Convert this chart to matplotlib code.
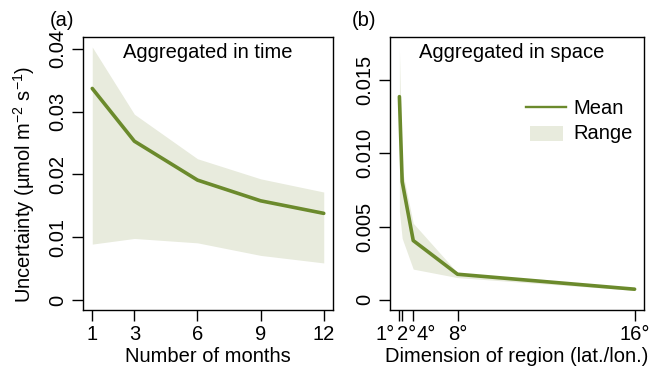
import matplotlib
matplotlib.use("Agg")
import matplotlib.pyplot as plt
from matplotlib.transforms import ScaledTranslation
from matplotlib.lines import Line2D
from matplotlib.patches import Rectangle
from matplotlib.legend_handler import HandlerPatch
import numpy as np

plt.rcParams['font.family'] = ['Liberation Sans', 'DejaVu Sans']
plt.rcParams['mathtext.fontset'] = 'custom'
plt.rcParams['mathtext.rm'] = 'Liberation Sans'
plt.rcParams['mathtext.it'] = 'Liberation Sans:italic'
plt.rcParams['mathtext.bf'] = 'Liberation Sans:bold'

# Panel (a): aggregated in time
months = [1, 3, 6, 9, 12]
time_mean = [0.0337, 0.0253, 0.0191, 0.0158, 0.0138]
time_upper = [0.0403, 0.0296, 0.0225, 0.0193, 0.0172]
time_lower = [0.0089, 0.0098, 0.0091, 0.0071, 0.0059]

# Panel (b): aggregated in space (x positioned by area = dim^2)
dims = [1, 2, 4, 8, 16]
dim_labels = ['1°', '2°', '4°', '8°', '16°']
space_mean = [0.01387, 0.00807, 0.00405, 0.00175, 0.00073]
space_upper = [0.01717, 0.00890, 0.00523, 0.00185, 0.00080]
space_lower = [0.00605, 0.00420, 0.00210, 0.00152, 0.00065]

line_c = '#6b8a2c'
fill_c = '#e8ebdd'
fs = 14.5

W, H = 651, 373
fig = plt.figure(figsize=(W/100, H/100), dpi=100)

def ax_rect(l, r, t, b):
    return [l/W, 1 - b/H, (r-l)/W, (b-t)/H]

def style(ax):
    for s in ax.spines.values():
        s.set_linewidth(1.0)
    ax.tick_params(direction='out', length=8, width=1.0, labelsize=fs, pad=3)
    ax.tick_params(axis='y', labelrotation=90)
    for lab in ax.get_yticklabels():
        lab.set_va('center')

# Left panel
ax1 = fig.add_axes(ax_rect(83, 333, 37, 310))
x1 = np.array(months)
ax1.fill_between(x1, time_lower, time_upper, color=fill_c, lw=0)
ax1.plot(x1, time_mean, color=line_c, lw=2.6, solid_capstyle='round',
         solid_joinstyle='round')
ax1.set_xlim(1 - 0.44, 12 + 0.44)
ax1.set_ylim(-0.0016, 0.0419)
ax1.set_xticks(months)
ax1.set_xticklabels([str(m) for m in months])
ax1.set_yticks([0, 0.01, 0.02, 0.03, 0.04])
ax1.set_yticklabels(['0', '0.01', '0.02', '0.03', '0.04'])
style(ax1)
ax1.set_xlabel('Number of months', fontsize=fs, labelpad=2)
ax1.set_ylabel(r'Uncertainty (µmol m$^{\mathregular{-2}}$ s$^{\mathregular{-1}}$)',
               fontsize=fs, labelpad=5)
ax1.yaxis.set_label_coords(-0.185, 0.46)
ax1.text(0.5, 0.978, 'Aggregated in time', transform=ax1.transAxes,
         ha='center', va='top', fontsize=fs)
fig.text(50/W, 1 - 21/H, '(a)', fontsize=fs, ha='left', va='center')

# Right panel
ax2 = fig.add_axes(ax_rect(390, 644, 37, 310))
x2 = np.array(dims, dtype=float) ** 2
ax2.fill_between(x2, space_lower, space_upper, color=fill_c, lw=0)
ax2.plot(x2, space_mean, color=line_c, lw=2.6, solid_capstyle='round',
         solid_joinstyle='round')
ax2.set_xlim(1 - 10.2, 256 + 10.2)
ax2.set_ylim(-0.00069, 0.01794)
ax2.set_xticks(list(x2))
ax2.set_xticklabels(dim_labels)
ax2.set_yticks([0, 0.005, 0.010, 0.015])
ax2.set_yticklabels(['0', '0.005', '0.010', '0.015'])
style(ax2)
ax2.set_xlabel('Dimension of region (lat./lon.)', fontsize=fs, labelpad=2)
ax2.text(0.48, 0.978, 'Aggregated in space', transform=ax2.transAxes,
         ha='center', va='top', fontsize=fs)
fig.text(352/W, 1 - 21/H, '(b)', fontsize=fs, ha='left', va='center')

def make_rect(legend, orig_handle, xdescent, ydescent, width, height, fontsize):
    return Rectangle((xdescent + 0.1*width, ydescent - 0.1*height),
                     0.82*width, 1.0*height)

mean_h = Line2D([], [], color=line_c, lw=1.7)
range_h = Rectangle((0, 0), 1, 1, color=fill_c, lw=0)
ax2.legend([mean_h, range_h], ['Mean', 'Range'], loc='center left',
           bbox_to_anchor=(0.535, 0.692),
           handler_map={Rectangle: HandlerPatch(patch_func=make_rect)},
           frameon=False, fontsize=fs, handlelength=2.0, handletextpad=0.35,
           labelspacing=0.3, borderaxespad=0, borderpad=0)

# shift crowded tick labels apart (as in the reference)
shifts = [-14, 4, 13, 0, 0]
for lab, dx in zip(ax2.get_xticklabels(), shifts):
    lab.set_transform(lab.get_transform() + ScaledTranslation(dx/100, 0, fig.dpi_scale_trans))

fig.savefig('out.png', dpi=100)
